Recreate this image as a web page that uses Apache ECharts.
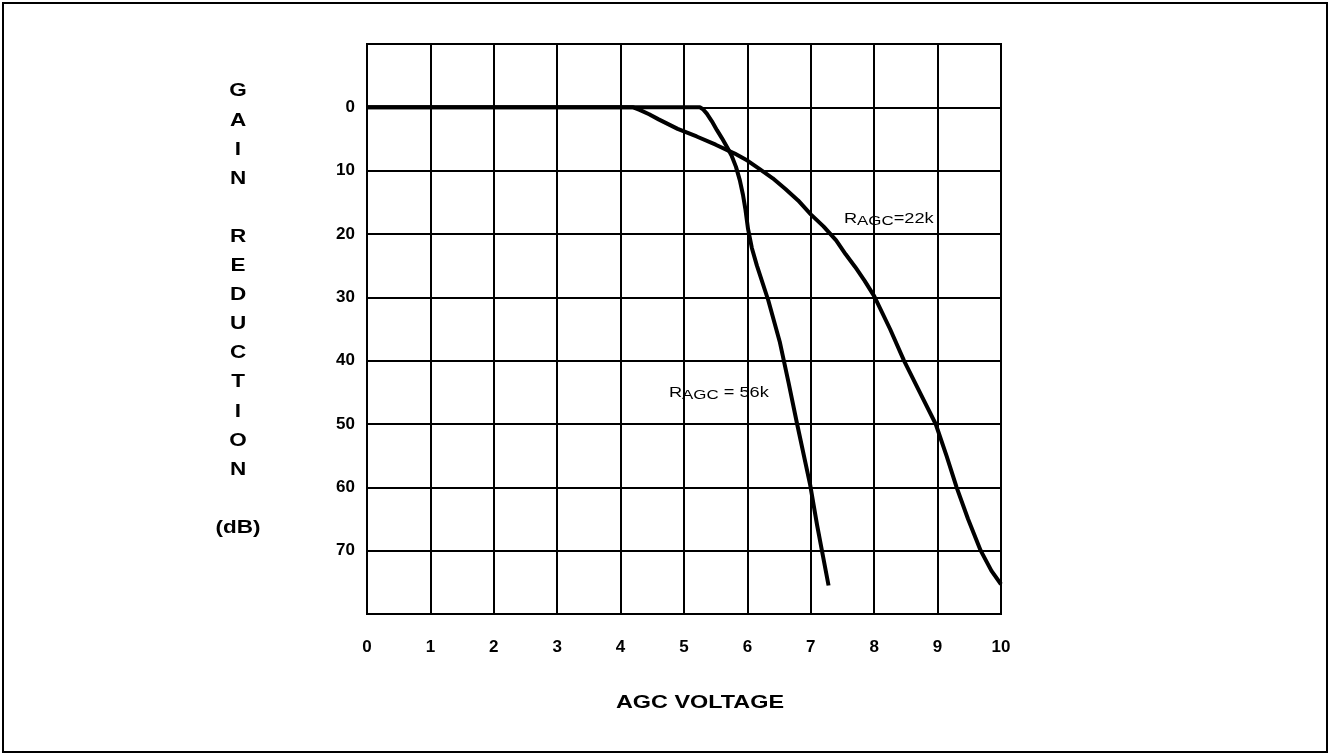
<!DOCTYPE html>
<html><head><meta charset="utf-8">
<script src="https://cdn.jsdelivr.net/npm/echarts@6/dist/echarts.min.js"></script>
<style>html,body{margin:0;padding:0;background:#fff}#c{width:1331px;height:756px}</style>
</head><body><div id="c"></div>
<script>
// AGC voltage (V) vs gain reduction (dB)
const curve22k = [[0,0],[4.2,0],[4.3,0.4],[4.45,1.1],[4.6,1.9],[4.9,3.4],[5.2,4.6],[5.5,5.9],[5.8,7.3],[6.0,8.4],[6.2,9.8],[6.4,11.2],[6.6,12.9],[6.8,14.7],[7.0,16.9],[7.2,18.8],[7.4,21.0],[7.55,23.2],[7.7,25.2],[7.85,27.4],[8.0,29.8],[8.25,35],[8.47,40],[8.72,45],[8.97,50],[9.14,55],[9.3,60],[9.48,65],[9.68,70],[9.85,73.2],[10,75.3]];
const curve56k = [[0,0],[5.25,0],[5.3,0.3],[5.36,1],[5.44,2.2],[5.52,3.6],[5.6,4.9],[5.68,6.3],[5.75,7.6],[5.82,9.4],[5.88,11.5],[5.93,13.8],[5.97,16.2],[6.01,19.2],[6.07,22.2],[6.15,25],[6.33,30.5],[6.51,37],[6.65,43.5],[6.78,49.8],[6.99,59.6],[7.1,66],[7.28,75.5]];
const xTickLabels = ['0','1','2','3','4','5','6','7','8','9','10'];
const yTickLabels = ['0','10','20','30','40','50','60','70'];
const yTitle = ['G','A','I','N','','R','E','D','U','C','T','I','O','N','','(dB)'];
const xTitle = 'AGC VOLTAGE';
const labels = [
  {pre:'R', sub:'AGC', post:'=22k', at:[8.23,17.8]},
  {pre:'R', sub:'AGC', post:' = 56k', at:[5.55,45.3]}
];

const chart = echarts.init(document.getElementById('c'));
const FONT = '"Liberation Sans", Arial, sans-serif';
const option = {
  animation:false,
  backgroundColor:'#fff',
  grid:{left:367, right:330, top:44, bottom:142, show:true, borderColor:'#000', borderWidth:2},
  xAxis:{type:'value', min:0, max:10, interval:1,
    axisLine:{show:true, onZero:false, lineStyle:{color:'#000', width:2}},
    axisTick:{show:false},
    splitLine:{show:true, lineStyle:{color:'#000', width:2}},
    axisLabel:{margin:25, color:'#000', fontFamily:FONT, fontWeight:'bold', fontSize:17,
      formatter:v=>xTickLabels[Math.round(v)] ?? ''}},
  yAxis:{type:'value', inverse:true, min:-10, max:80, interval:10,
    axisLine:{show:true, onZero:false, lineStyle:{color:'#000', width:2}},
    axisTick:{show:false},
    splitLine:{show:true, lineStyle:{color:'#000', width:2}},
    axisLabel:{margin:12, color:'#000', fontFamily:FONT, fontWeight:'bold', fontSize:17,
      formatter:v=>{const i=yTickLabels.indexOf(String(v)); return i>=0?yTickLabels[i]:'';}}},
  series:[
    {type:'line', data:curve22k, smooth:false, showSymbol:false, lineStyle:{color:'#000', width:4, join:'round'}},
    {type:'line', data:curve56k, smooth:false, showSymbol:false, lineStyle:{color:'#000', width:4, join:'round'}}
  ]
};
chart.setOption(option);

const g = [
  {type:'rect', shape:{x:3,y:3,width:1324,height:749}, style:{fill:'none', stroke:'#000', lineWidth:2}, silent:true},
  {type:'text', x:238, y:91.5 + (yTitle.length-1)*29.1/2, scaleX:1.25,
    style:{text:yTitle.join('\n'), fill:'#000', font:'bold 18px '+FONT, lineHeight:29.1, align:'center', verticalAlign:'middle'}},
  {type:'text', x:700, y:703, scaleX:1.3,
    style:{text:xTitle, fill:'#000', font:'bold 18px '+FONT, align:'center', verticalAlign:'middle'}}
];
labels.forEach(l=>{
  const p = chart.convertToPixel({gridIndex:0}, l.at);
  g.push({type:'text', x:p[0], y:p[1], scaleX:1.3, style:{
    text:'{r|'+l.pre+'}{s|'+l.sub+'}{r|'+l.post+'}',
    align:'center', verticalAlign:'middle',
    rich:{r:{fontFamily:FONT, fontSize:14, fill:'#000', color:'#000', verticalAlign:'top', lineHeight:16},
          s:{fontFamily:FONT, fontSize:13, fill:'#000', color:'#000', verticalAlign:'bottom', lineHeight:16, padding:[7,0,0,0]}}
  }});
});
chart.setOption({graphic:g});
</script></body></html>
